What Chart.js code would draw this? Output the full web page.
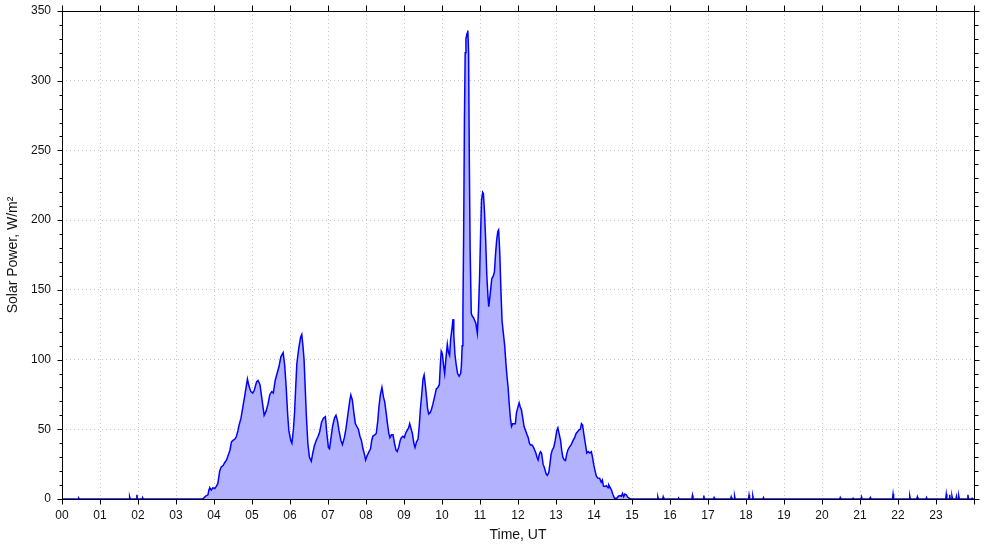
<!DOCTYPE html>
<html>
<head>
<meta charset="utf-8">
<script src="https://cdn.jsdelivr.net/npm/chart.js@4.4.0/dist/chart.umd.min.js"></script>
<style>
  html, body { margin: 0; padding: 0; background: #fff; }
  #wrap { width: 985px; height: 547px; position: relative; }
</style>
</head>
<body>
<div id="wrap"><canvas id="solarChart"></canvas></div>
<script>
// Main daytime curve: time in hours UT, power in W/m2
const times = [
    0, 3.70, 3.78, 3.84, 3.87, 3.89, 3.93, 3.97, 4.02, 4.06, 4.10, 4.15, 4.19, 4.24, 4.28, 4.33, 4.37, 4.42, 4.46, 4.50,
    4.55, 4.59, 4.63, 4.66, 4.71, 4.76, 4.82, 4.88, 4.92, 4.97, 5.02, 5.06, 5.12, 5.16, 5.21, 5.26, 5.32, 5.37, 5.42, 5.47,
    5.52, 5.56, 5.61, 5.66, 5.71, 5.76, 5.82, 5.86, 5.90, 5.94, 5.97, 6.02, 6.05, 6.09, 6.12, 6.15, 6.18, 6.23, 6.28, 6.31,
    6.34, 6.37, 6.40, 6.43, 6.47, 6.51, 6.56, 6.60, 6.64, 6.69, 6.74, 6.78, 6.83, 6.88, 6.93, 6.97, 7.01, 7.04, 7.08, 7.12,
    7.17, 7.21, 7.25, 7.29, 7.34, 7.38, 7.43, 7.47, 7.53, 7.57, 7.60, 7.64, 7.68, 7.72, 7.76, 7.80, 7.84, 7.88, 7.92, 7.96,
    7.99, 8.03, 8.08, 8.12, 8.15, 8.18, 8.23, 8.27, 8.31, 8.34, 8.38, 8.42, 8.46, 8.49, 8.53, 8.56, 8.60, 8.63, 8.67, 8.71,
    8.75, 8.79, 8.82, 8.86, 8.90, 8.93, 8.97, 9.01, 9.04, 9.08, 9.12, 9.15, 9.19, 9.22, 9.26, 9.29, 9.33, 9.37, 9.40, 9.43,
    9.47, 9.50, 9.53, 9.56, 9.59, 9.62, 9.65, 9.69, 9.72, 9.76, 9.81, 9.85, 9.89, 9.93, 9.96, 9.98, 10.01, 10.04, 10.07, 10.10,
    10.14, 10.17, 10.20, 10.23, 10.27, 10.29, 10.31, 10.34, 10.37, 10.41, 10.45, 10.49, 10.51, 10.53, 10.55, 10.57, 10.59, 10.61, 10.63, 10.66,
    10.68, 10.70, 10.72, 10.74, 10.77, 10.80, 10.83, 10.86, 10.89, 10.93, 10.96, 10.99, 11.02, 11.04, 11.07, 11.09, 11.12, 11.15, 11.18, 11.21,
    11.23, 11.26, 11.28, 11.31, 11.35, 11.38, 11.41, 11.44, 11.47, 11.49, 11.52, 11.55, 11.58, 11.61, 11.65, 11.68, 11.71, 11.74, 11.77, 11.80,
    11.83, 11.86, 11.89, 11.93, 11.96, 11.99, 12.03, 12.06, 12.09, 12.12, 12.16, 12.20, 12.24, 12.27, 12.30, 12.33, 12.37, 12.41, 12.44, 12.47,
    12.50, 12.53, 12.56, 12.59, 12.62, 12.66, 12.70, 12.74, 12.77, 12.81, 12.84, 12.87, 12.90, 12.94, 12.98, 13.02, 13.05, 13.08, 13.12, 13.15,
    13.18, 13.22, 13.25, 13.28, 13.31, 13.35, 13.40, 13.45, 13.49, 13.53, 13.56, 13.60, 13.64, 13.67, 13.70, 13.73, 13.77, 13.81, 13.85, 13.89,
    13.93, 13.96, 13.99, 14.03, 14.06, 14.10, 14.15, 14.19, 14.22, 14.25, 14.29, 14.33, 14.37, 14.39, 14.43, 14.46, 14.50, 14.54, 14.60, 14.64,
    14.68, 14.72, 14.75, 14.78, 14.81, 14.85, 14.89, 14.93, 14.96, 24
];
const power = [
    0, 0, 2, 3, 7, 8, 6.5, 8, 7.5, 9, 11, 20, 23, 24, 26, 28, 31, 35, 41, 42,
    43, 45, 49, 53, 58, 66, 76, 86, 81, 77, 76, 78, 84, 85, 82, 72, 60, 63, 68, 75,
    77, 76, 85, 90, 95, 102, 105, 96, 80, 60, 49, 42, 40, 50, 62, 80, 97, 108, 116, 118,
    110, 100, 80, 60, 40, 30, 27, 33, 38, 42, 45, 48, 55, 58, 59, 47, 37, 36, 44, 52,
    58, 60, 56, 49, 42, 39, 44, 50, 62, 70, 74.6, 71, 62, 54, 52, 50, 45, 42, 36, 32,
    28, 31, 34, 36, 42, 45, 46, 47, 56, 66, 75, 80, 73, 70, 62, 55, 47, 44, 46, 46,
    40, 35, 34, 37, 42, 44, 45, 44, 47, 49, 51, 54, 50, 47, 40, 37, 41, 43, 52, 64,
    76, 86, 89, 82, 74, 65, 61, 62, 64, 68, 74, 79, 80, 82, 98, 106, 104, 96, 90, 100,
    111, 105, 103, 115, 124, 129, 118, 104, 97, 90, 88, 90, 95, 110, 133, 190, 270, 320, 330, 334,
    336, 320, 240, 180, 133, 131, 130, 128, 126, 119, 135, 160, 195, 214, 220, 219, 205, 185, 160, 145,
    138, 145, 150, 158, 160, 163, 176, 186, 192, 193, 177, 150, 128, 120, 110, 98, 88, 80, 68, 58,
    52, 54, 54, 54, 62, 65, 69, 66, 64, 59, 52, 49, 46, 44, 40, 38.7, 38.7, 37, 35, 33,
    30, 28, 32, 34, 33, 25, 22, 18, 17, 19, 25, 32, 35, 37, 42, 49, 51, 47, 42, 35,
    30, 28, 27.5, 32, 35, 37, 39, 42, 44, 47, 48, 49.5, 50, 54, 53, 47, 40, 33, 34, 33,
    34, 30, 25, 20, 16.5, 15, 14.8, 12, 13.6, 9.3, 9, 9.5, 8, 10, 8, 6.5, 3, 0.5, 0.5, 2,
    2.5, 2, 4, 1.6, 3.5, 3, 1.2, 0.5, 0, 0
];

// Short isolated blips during the night hours
const blipTimes = [0.44, 1.78, 1.97, 2.12, 15.68, 15.82, 16.23, 16.59, 16.89, 17.16, 17.61, 17.70, 18.08, 18.18, 18.46,
    20.48, 20.82, 21.04, 21.27, 21.87, 22.31, 22.51, 22.75, 23.27, 23.36, 23.42, 23.54, 23.60, 23.84, 23.95];
const blipPower = [0.6, 1.5, 3, 1, 1.5, 1.5, 0.5, 2.5, 2.5, 1, 1.5, 2, 2.8, 2, 1,
    1, 0.5, 1.5, 1, 3.5, 2, 1.5, 1, 3.5, 3, 2, 2, 2, 3, 0.5];

const hourTicks = ['00', '01', '02', '03', '04', '05', '06', '07', '08', '09', '10', '11',
    '12', '13', '14', '15', '16', '17', '18', '19', '20', '21', '22', '23'];

// Build point list from the arrays
function buildPoints() {
    const pts = times.map((t, i) => ({ x: t, y: power[i] }));
    blipTimes.forEach((t, i) => {
        pts.push({ x: t - 0.015, y: 0 });
        pts.push({ x: t, y: blipPower[i] });
        pts.push({ x: t + 0.015, y: 0 });
    });
    return pts.sort((a, b) => a.x - b.x);
}

// Frame with ticks on all four sides (minor ticks every 10 on y)
const frameTicks = {
    id: 'frameTicks',
    afterDraw(chart) {
        const { ctx, chartArea: a, scales: { x, y } } = chart;
        ctx.save();
        ctx.strokeStyle = '#000';
        ctx.lineWidth = 1;
        const L = Math.round(a.left) + 0.5, R = Math.round(a.right) + 0.5;
        const T = Math.round(a.top) + 0.5, B = Math.round(a.bottom) + 0.5;
        ctx.strokeRect(L, T, R - L, B - T);
        ctx.beginPath();
        for (let h = 0; h <= 24; h++) {
            const px = Math.round(x.getPixelForValue(h)) + 0.5;
            ctx.moveTo(px, B); ctx.lineTo(px, B + 5);
            ctx.moveTo(px, T); ctx.lineTo(px, T - 6);
        }
        for (let v = 0; v <= 350; v += 10) {
            const py = Math.round(y.getPixelForValue(v)) + 0.5;
            const major = v % 50 === 0;
            ctx.moveTo(L, py); ctx.lineTo(L - (major ? 5 : 3), py);
            ctx.moveTo(R, py); ctx.lineTo(R + (major ? 5 : 4), py);
        }
        ctx.stroke();
        ctx.restore();
    }
};

const font = { family: '"Liberation Sans", Arial, sans-serif', size: 12 };

new Chart(document.getElementById('solarChart'), {
    type: 'line',
    data: {
        datasets: [{
            data: buildPoints(),
            borderColor: '#0000ff',
            borderWidth: 1.5,
            backgroundColor: 'rgb(178, 178, 255)',
            fill: 'origin',
            pointRadius: 0,
            tension: 0
        }]
    },
    options: {
        responsive: true,
        maintainAspectRatio: false,
        animation: false,
        layout: { padding: { top: 11, right: 11, left: 0, bottom: 0 } },
        plugins: { legend: { display: false }, tooltip: { enabled: false } },
        scales: {
            x: {
                type: 'linear',
                min: 0,
                max: 24,
                afterFit: scale => {
                    scale.height = 48;
                    scale.paddingLeft = 0;
                    scale.paddingRight = 0;
                },
                ticks: {
                    stepSize: 1,
                    autoSkip: false,
                    maxRotation: 0,
                    padding: 9,
                    color: '#111',
                    font: font,
                    callback: v => hourTicks[v] !== undefined ? hourTicks[v] : ''
                },
                grid: { color: '#c4c4c4', lineWidth: 1, drawTicks: false },
                border: { display: false, dash: [1, 3] },
                title: {
                    display: true,
                    text: 'Time, UT',
                    color: '#111',
                    font: { family: font.family, size: 14 },
                    padding: { top: 0, bottom: 3 }
                }
            },
            y: {
                min: 0,
                max: 350,
                afterFit: scale => {
                    scale.width = 62;
                    scale.paddingTop = 0;
                    scale.paddingBottom = 0;
                },
                ticks: { stepSize: 50, padding: 11, color: '#111', font: font },
                grid: { color: '#c4c4c4', lineWidth: 1, drawTicks: false },
                border: { display: false, dash: [1, 3] },
                title: {
                    display: true,
                    text: 'Solar Power, W/m²',
                    color: '#111',
                    font: { family: font.family, size: 14 },
                    padding: { top: 5, bottom: 0 }
                }
            }
        }
    },
    plugins: [frameTicks]
});
</script>
</body>
</html>
